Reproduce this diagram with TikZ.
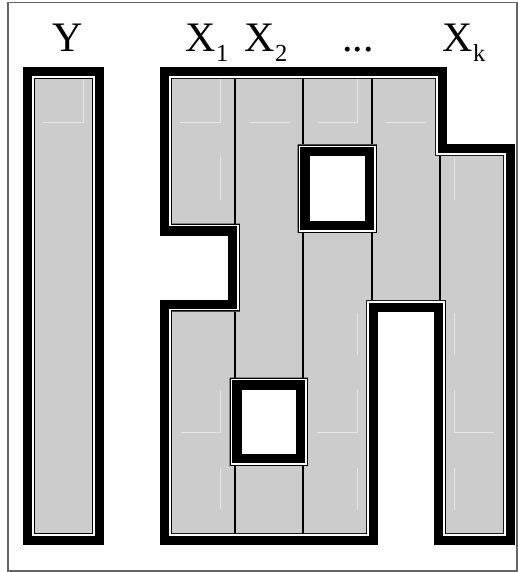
\documentclass[tikz,border=0pt]{standalone}
\usepackage{fontspec}
\setmainfont{Liberation Serif}
\tikzset{
  mainreg/.style={insert path={(172,79) -- (435,79) -- (435,156) -- (503,156) -- (503,533) -- (446,533) -- (446,300) -- (366,300) -- (366,533) -- (172,533) -- (172,311.5) -- (240,311.5) -- (240,223.5) -- (172,223.5) -- cycle
     (297.5,144.5) rectangle (377,233) (229.5,377.5) rectangle (308,466)}},
  yreg/.style={insert path={(35,79) rectangle (92,533)}},
  joinstyle/.style={line join=miter, miter limit=20},
  divider/.style={black, line width=1.3pt},
  faint/.style={draw=white!80!gray, line width=0.8pt},
  framestyle/.style={draw=black!60, line width=1.6pt},
  lbl/.style={inner sep=0pt, anchor=base west, font=\fontsize{42}{42}\selectfont}
}
\newcommand\regionlayers[1]{%
  \draw[black, line width=24pt, joinstyle, #1];
  \draw[white, line width=5.2pt, joinstyle, #1];
  \draw[black, line width=2.6pt, joinstyle, #1];
  \fill[gray!40, even odd rule, #1];}
\newcommand\subtxt[1]{\raisebox{-10pt}{\fontsize{24.5}{24.5}\selectfont #1}}
\begin{document}
\begin{tikzpicture}[x=1pt,y=-1pt]
\useasboundingbox (0,0) rectangle (518,572);
\draw[framestyle] (8,2.7) rectangle (517,570.7);

\regionlayers{yreg}
\regionlayers{mainreg}

% faint marks
\draw[faint] (43,122) -- (83,122) -- (83,79);
\draw[faint] (180,122) -- (220,122) -- (220,79);
\draw[faint] (220,157) -- (220,200);
\draw[faint] (250,122) -- (290,122);
\draw[faint] (318,122) -- (357,122) -- (357,79);
\draw[faint] (386,122) -- (426,122);
\draw[faint] (454,158) -- (454,200);
\draw[faint] (220,390) -- (220,432) -- (181,432);
\draw[faint] (220,468) -- (220,509);
\draw[faint] (357,313) -- (357,355);
\draw[faint] (357,390) -- (357,432) -- (317,432);
\draw[faint] (357,468) -- (357,510);
\draw[faint] (454,313) -- (454,355);
\draw[faint] (454,390) -- (454,432) -- (494,432);
\draw[faint] (454,468) -- (454,510);

% dividers
\draw[divider] (235,79) -- (235,223.5) (235,311.5) -- (235,377.5) (235,466) -- (235,533);
\draw[divider] (303,79) -- (303,144.5) (303,233) -- (303,377.5) (303,466) -- (303,533);
\draw[divider] (372,79) -- (372,144.5) (372,233) -- (372,300);
\draw[divider] (440,156) -- (440,300);

% labels
\node[lbl, anchor=base] (ly) at (67.5,51.7) {Y};
\node[lbl] (lx1) at (185.6,51.7) {X\subtxt{1}};
\node[lbl] (lx2) at (244.6,51.7) {X\subtxt{2}};
\node[lbl] (ldots) at (342,51.7) {...};
\node[lbl] (lxk) at (442.6,51.7) {X\subtxt{k}};
\end{tikzpicture}
\end{document}
